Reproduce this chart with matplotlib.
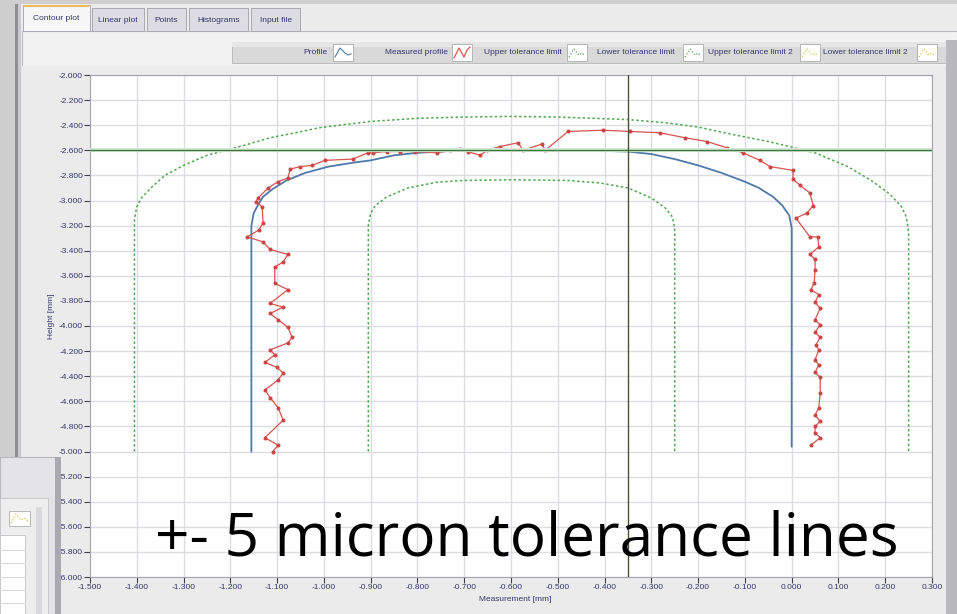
import numpy as np
import matplotlib.pyplot as plt
from matplotlib.patches import Rectangle
from matplotlib.lines import Line2D

# ---- data (mm) ----
profile_x = [-1.155, -1.155, -1.15, -1.14, -1.13, -1.11, -1.08, -1.04, -0.99, -0.94, -0.90,
             -0.85, -0.80, -0.70, -0.60, -0.50, -0.40, -0.35, -0.30, -0.25, -0.20, -0.15,
             -0.10, -0.07, -0.04, -0.02, -0.005, 0.0, 0.0]
profile_y = [-5.00, -3.20, -3.10, -3.03, -2.97, -2.91, -2.84, -2.78, -2.73, -2.70, -2.68,
             -2.64, -2.62, -2.60, -2.595, -2.60, -2.605, -2.61, -2.63, -2.67, -2.72, -2.78,
             -2.85, -2.90, -2.97, -3.04, -3.12, -3.22, -4.96]

upper_x = [-1.405, -1.405, -1.40, -1.39, -1.37, -1.34, -1.30, -1.25, -1.22, -1.17, -1.115,
           -1.06, -1.01, -0.90, -0.80, -0.70, -0.60, -0.50, -0.35, -0.27, -0.20, -0.125,
           -0.05, 0.05, 0.12, 0.17, 0.21, 0.235, 0.245, 0.25, 0.25]
upper_y = [-5.00, -3.15, -3.05, -2.98, -2.90, -2.80, -2.72, -2.64, -2.61, -2.56, -2.50,
           -2.46, -2.42, -2.37, -2.345, -2.335, -2.33, -2.335, -2.355, -2.38, -2.415, -2.475,
           -2.53, -2.62, -2.73, -2.84, -2.95, -3.05, -3.13, -3.25, -5.00]

lower_x = [-0.905, -0.905, -0.90, -0.89, -0.865, -0.82, -0.76, -0.70, -0.60, -0.48, -0.41,
           -0.35, -0.30, -0.27, -0.255, -0.25, -0.25]
lower_y = [-5.00, -3.20, -3.10, -3.04, -2.97, -2.90, -2.855, -2.84, -2.835, -2.84, -2.86,
           -2.90, -2.98, -3.06, -3.13, -3.22, -5.00]

meas_x = [-1.109, -1.098, -1.126, -1.087, -1.098, -1.115, -1.126, -1.098, -1.087, -1.100,
          -1.126, -1.105, -1.115, -1.077, -1.068, -1.077, -1.098, -1.115, -1.087, -1.115,
          -1.077, -1.105, -1.105, -1.087, -1.077, -1.115, -1.130, -1.164, -1.139, -1.130,
          -1.132, -1.145, -1.141, -1.119, -1.098, -1.077, -1.072, -1.051, -1.025, -0.998,
          -0.938, -0.906, -0.895, -0.865, -0.837, -0.805, -0.758, -0.730, -0.709, -0.692,
          -0.666, -0.651, -0.624, -0.585, -0.574, -0.534, -0.527, -0.478, -0.403, -0.346,
          -0.282, -0.228, -0.181, -0.138, -0.104, -0.068, -0.046, 0.003, 0.003, 0.018,
          0.039, 0.046, 0.033, 0.009, 0.039, 0.056, 0.058, 0.039, 0.050, 0.050, 0.048,
          0.041, 0.058, 0.050, 0.061, 0.050, 0.061, 0.050, 0.061, 0.052, 0.058, 0.050,
          0.058, 0.050, 0.061, 0.061, 0.058, 0.050, 0.061, 0.050, 0.050, 0.061, 0.041]
meas_y = [-5.00, -4.95, -4.89, -4.75, -4.65, -4.57, -4.51, -4.43, -4.375, -4.33,
          -4.29, -4.23, -4.19, -4.135, -4.09, -4.01, -3.95, -3.90, -3.85, -3.82,
          -3.71, -3.66, -3.53, -3.49, -3.43, -3.39, -3.33, -3.29, -3.235, -3.18,
          -3.05, -3.01, -2.98, -2.90, -2.85, -2.82, -2.75, -2.73, -2.72, -2.68,
          -2.67, -2.62, -2.62, -2.61, -2.61, -2.61, -2.62, -2.60, -2.59, -2.61,
          -2.64, -2.60, -2.57, -2.54, -2.60, -2.55, -2.60, -2.45, -2.44, -2.45,
          -2.46, -2.50, -2.53, -2.58, -2.62, -2.68, -2.73, -2.76, -2.83, -2.88,
          -2.94, -3.04, -3.10, -3.14, -3.29, -3.29, -3.37, -3.43, -3.47, -3.55, -3.66,
          -3.71, -3.75, -3.81, -3.86, -3.95, -3.99, -4.05, -4.09, -4.15, -4.19, -4.27,
          -4.31, -4.37, -4.41, -4.53, -4.65, -4.71, -4.76, -4.80, -4.85, -4.89, -4.95]

cursor_x = -0.35
cursor_y = -2.60

x_ticks = [-1.5, -1.4, -1.3, -1.2, -1.1, -1.0, -0.9, -0.8, -0.7, -0.6, -0.5, -0.4,
           -0.3, -0.2, -0.1, 0.0, 0.1, 0.2, 0.3]
y_ticks = [-2.0, -2.2, -2.4, -2.6, -2.8, -3.0, -3.2, -3.4, -3.6, -3.8, -4.0, -4.2,
           -4.4, -4.6, -4.8, -5.0, -5.2, -5.4, -5.6, -5.8, -6.0]

tab_names = ["Contour plot", "Linear plot", "Points", "Histograms", "Input file"]
legend_names = ["Profile", "Measured profile", "Upper tolerance limit",
                "Lower tolerance limit", "Upper tolerance limit 2", "Lower tolerance limit 2"]
legend_colors = ["#4f79a8", "#d9534f", "#5aa85a", "#5aa85a", "#d8c84a", "#d8c84a"]

# ---- figure in pixel helpers ----
W, H = 957, 614
fig = plt.figure(figsize=(W / 100, H / 100), dpi=100, facecolor="#cfcfcf")
ui_font = "Liberation Sans"
ui_col = "#35356e"


def frect(x0, y0, x1, y1, z=-5, **kw):
    fig.patches.append(Rectangle((x0 / W, 1 - y1 / H), (x1 - x0) / W, (y1 - y0) / H,
                                 transform=fig.transFigure, zorder=z, **kw))


def fline(xs, ys, z=-4, **kw):
    fig.add_artist(Line2D([x / W for x in xs], [1 - y / H for y in ys],
                          transform=fig.transFigure, zorder=z, **kw))


def ftext(x, y, s, **kw):
    kw.setdefault("family", ui_font)
    kw.setdefault("color", ui_col)
    kw.setdefault("fontsize", 6.0)
    fig.text(x / W, 1 - y / H, s, **kw)


# application window
frect(15, 4, 957, 614, fc="#ececec", ec="none")
frect(15, 4, 18, 614, fc="#8f8f96", ec="none")
frect(18, 4, 21, 614, fc="#c9c9cf", ec="none")
frect(22, 31, 957, 614, fc="#f2f2f2", ec="#b9b9c0", lw=0.8)
frect(22, 66, 946, 614, fc="#ebebeb", ec="none")
frect(946, 40, 957, 614, fc="#b8b8be", ec="none")

# tabs
tab_x = [(23, 90), (92, 144), (147, 186), (189, 248), (251, 300)]
for i, (name, (a, b)) in enumerate(zip(tab_names, tab_x)):
    top = 5 if i == 0 else 8
    frect(a, top, b, 31, fc="#f7f7f7" if i == 0 else "#dcdce2", ec="#a9a9b2", lw=0.7)
    if i == 0:
        frect(a + 1, top, b - 1, top + 2, z=-4, fc="#f0b860", ec="none")
    ftext((a + b) / 2, top + 13 if i == 0 else 20, name, ha="center", va="center")

# legend bar
frect(232, 42, 946, 63, fc="#d9d9d9", ec="#bdbdbd", lw=0.7)
frect(232, 42, 946, 47, z=-4, fc="#e6e6e6", ec="none")
leg_pos = [(327, 333), (448, 452), (562, 567), (675, 683), (793, 800), (908, 917)]
for name, col, (tx, ix) in zip(legend_names, legend_colors, leg_pos):
    ftext(tx, 52, name, ha="right", va="center")
    frect(ix, 44, ix + 20, 61, z=-3, fc="white", ec="#b5b5b5", lw=0.7)
    xs = [ix + 2, ix + 7, ix + 12, ix + 15, ix + 18]
    if col == legend_colors[0]:
        fline(xs, [57, 48, 53, 55, 54], z=-2, color=col, lw=0.8)
    elif col == legend_colors[1]:
        fline(xs, [58, 48, 57, 50, 47], z=-2, color=col, lw=0.9)
    else:
        fline(xs, [57, 49, 55, 53, 56], z=-2, color=col, lw=0.9, ls=(0, (1, 1.5)))

# ---- plot area ----
ax = fig.add_axes([90 / W, 1 - 577 / H, 842 / W, 502 / H])
ax.set_facecolor("white")
ax.set_xlim(-1.5, 0.3)
ax.set_ylim(-6.0, -2.0)
ax.set_xticks(x_ticks)
ax.set_yticks(y_ticks)
ax.set_xticklabels([f"{abs(v):.3f}" if v == 0 else f"{v:.3f}" for v in x_ticks])
ax.set_yticklabels([f"{v:.3f}" for v in y_ticks])
ax.grid(True, color="#dcdce2", lw=1.0)
ax.set_axisbelow(True)
for lab in ax.get_xticklabels() + ax.get_yticklabels():
    lab.set_family(ui_font)
ax.tick_params(colors="#404050", labelcolor=ui_col, labelsize=6.0, length=4, width=0.8, pad=1)
for s in ax.spines.values():
    s.set_color("#a5a5ad")
    s.set_linewidth(0.8)
ax.set_xlabel("Measurement [mm]", family=ui_font, fontsize=6.0, color=ui_col, labelpad=1)
ax.set_ylabel("Height [mm]", family=ui_font, fontsize=6.0, color=ui_col, labelpad=2)
ax.xaxis.set_label_coords(0.505, -0.037)
ax.yaxis.set_label_coords(-0.042, 0.52)

dot = (0, (1.6, 1.6))
ax.plot(upper_x, upper_y, color="#4fa84f", lw=1.1, ls=dot)
ax.plot(lower_x, lower_y, color="#4fa84f", lw=1.1, ls=dot)
ax.plot(profile_x, profile_y, color="#4f79a8", lw=1.3)
ax.plot(meas_x, meas_y, color="#d9534f", lw=0.9, marker="o", ms=1.9, mec="#cc4545", mfc="#cc4545")
ax.axhline(cursor_y, color="#d8e8d8", lw=3.0, zorder=4)
ax.axhline(cursor_y, color="#3f7a3f", lw=1.0, zorder=5)
ax.axvline(cursor_x, color="#4a5236", lw=1.0, zorder=5)

# overlapping window in the lower left corner
frect(0, 457, 56, 614, z=5, fc="#e4e4e6", ec="#b8b8bf", lw=0.8)
frect(55, 457, 61, 614, z=5, fc="#a9a9b1", ec="none")
frect(0, 498, 48, 614, z=5, fc="#eeeeee", ec="#c8c8cc", lw=0.7)
frect(9, 511, 30, 526, z=6, fc="white", ec="#b5b5b5", lw=0.7)
fline([11, 16, 21, 24, 28], [523, 514, 520, 518, 521], z=7, color="#d8c84a", lw=0.9, ls=(0, (1, 1.5)))
frect(36, 507, 42, 614, z=6, fc="#dadade", ec="none")
frect(0, 535, 25, 614, z=6, fc="white", ec="#c8c8cc", lw=0.7)
for yy in [550, 563, 577, 590, 603]:
    fline([0, 25], [yy, yy], z=7, color="#dcdce2", lw=0.9)

# slide caption
fig.text(527 / W, 1 - 540 / H, "+- 5 micron tolerance lines", family="Open Sans",
         fontsize=43.5, color="black", ha="center", va="center", zorder=20)

fig.savefig("out.png", dpi=100, facecolor=fig.get_facecolor())
